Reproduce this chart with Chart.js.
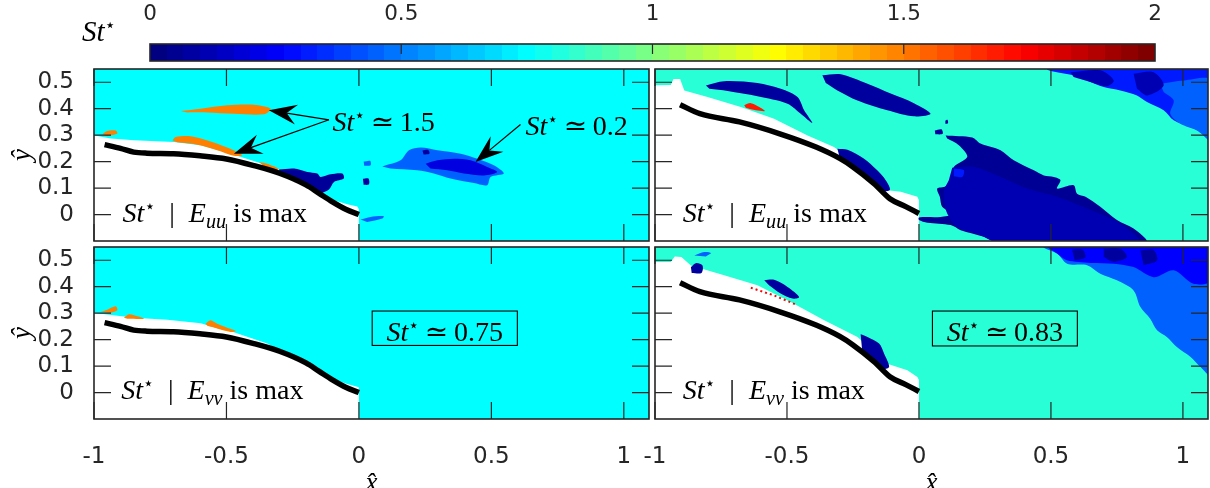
<!DOCTYPE html>
<html><head><meta charset="utf-8">
<script src="https://cdn.jsdelivr.net/npm/chart.js@4.4.1/dist/chart.umd.min.js"></script>
<style>
html,body{margin:0;padding:0;background:#fff}
#wrap{position:relative;width:1210px;height:488px;overflow:hidden;background:#fff}
canvas{position:absolute;left:0;top:0}
</style></head><body>
<div id="wrap">
<canvas id="cb" width="1210" height="488"></canvas>
<canvas id="tl" width="1210" height="488"></canvas>
<canvas id="tr" width="1210" height="488"></canvas>
<canvas id="bl" width="1210" height="488"></canvas>
<canvas id="br" width="1210" height="488"></canvas>
</div>
<script>
// ---------------- data ----------------
const xRange = [-1, 1.095];
const yRange = [-0.1, 0.55];
const xTicks = [-1, -0.5, 0, 0.5, 1];
const yTicks = [0, 0.1, 0.2, 0.3, 0.4, 0.5];
const cbRange = [0, 2];
const cbTicks = [0, 0.5, 1, 1.5, 2];
const cbLevels = 60;

// dominant St* of each panel background
const bgSt = { tl: 0.75, tr: 0.83, bl: 0.75, br: 0.83 };

// airfoil surfaces (x̂, ŷ)
const leftCurve = [[-0.96,0.264],[-0.90,0.250],[-0.85,0.236],[-0.80,0.232],[-0.70,0.230],[-0.60,0.222],[-0.50,0.210],[-0.40,0.186],[-0.30,0.156],[-0.20,0.112],[-0.15,0.080],[-0.10,0.048],[-0.05,0.020],[0,0]];
const rightCurve = [[-0.905,0.415],[-0.83,0.381],[-0.68,0.350],[-0.53,0.306],[-0.39,0.255],[-0.30,0.212],[-0.25,0.180],[-0.17,0.117],[-0.11,0.060],[-0.05,0.030],[0,0.004]];

// no-data (white) regions
const tlWhite = [[-1.05,-0.2],[-1.05,0.300],[-0.997,0.299],[-0.937,0.287],[-0.849,0.281],[-0.698,0.274],[-0.597,0.262],[-0.472,0.226],[-0.308,0.174],[-0.182,0.111],[-0.094,0.054],[-0.044,0.039],[-0.006,0.030],[0,0.02],[0,-0.2]];
const blWhite = [[-1.05,-0.2],[-1.05,0.301],[-0.997,0.301],[-0.849,0.283],[-0.723,0.275],[-0.597,0.262],[-0.535,0.243],[-0.472,0.228],[-0.346,0.185],[-0.220,0.116],[-0.119,0.058],[-0.044,0.032],[0,0.02],[0,-0.2]];
const trWhite = [[-1.05,-0.2],[-1.05,0.488],[-0.94,0.49],[-0.93,0.512],[-0.905,0.512],[-0.889,0.469],[-0.801,0.444],[-0.675,0.406],[-0.549,0.362],[-0.422,0.299],[-0.322,0.255],[-0.233,0.192],[-0.12,0.092],[-0.069,0.086],[-0.006,0.067],[0,0.054],[0,-0.2]];
const brWhite = [[-1.05,-0.2],[-1.05,0.493],[-0.94,0.493],[-0.925,0.514],[-0.90,0.512],[-0.864,0.480],[-0.738,0.443],[-0.612,0.405],[-0.486,0.342],[-0.359,0.273],[-0.233,0.210],[-0.12,0.109],[-0.044,0.084],[-0.006,0.059],[0,0.047],[0,-0.2]];

// top-left regions
const tlBlueOuter = [[0.088,0.182],[0.157,0.205],[0.189,0.243],[0.233,0.253],[0.296,0.243],[0.384,0.230],[0.447,0.211],[0.509,0.186],[0.547,0.155],[0.497,0.142],[0.484,0.111],[0.434,0.119],[0.346,0.136],[0.283,0.155],[0.220,0.167],[0.119,0.174]];
const tlBlueInner = [[0.252,0.192],[0.296,0.205],[0.358,0.211],[0.421,0.205],[0.484,0.180],[0.522,0.161],[0.472,0.148],[0.396,0.155],[0.333,0.167],[0.270,0.174]];
const tlNavyDot1 = [[0.240,0.242],[0.262,0.244],[0.266,0.230],[0.244,0.227]];
const tlNavyDot2 = [[0.015,0.135],[0.036,0.136],[0.038,0.114],[0.018,0.112]];
const tlBlueDot = [[0.018,0.200],[0.042,0.203],[0.044,0.186],[0.020,0.184]];
const tlStreak = [[0.006,-0.019],[0.044,-0.009],[0.094,-0.006],[0.088,-0.015],[0.031,-0.028]];
const tlNavy = [[-0.302,0.170],[-0.245,0.174],[-0.195,0.161],[-0.157,0.155],[-0.145,0.142],[-0.107,0.152],[-0.063,0.155],[-0.057,0.136],[-0.094,0.123],[-0.113,0.095],[-0.15,0.082],[-0.2,0.115],[-0.25,0.142],[-0.30,0.162]];
const tlOrangeUpper = [[-0.673,0.391],[-0.597,0.400],[-0.497,0.413],[-0.396,0.415],[-0.333,0.400],[-0.358,0.379],[-0.472,0.381],[-0.572,0.386],[-0.648,0.386]];
const tlOrangeMid = [[-0.704,0.280],[-0.692,0.293],[-0.635,0.296],[-0.572,0.280],[-0.497,0.253],[-0.440,0.224],[-0.472,0.222],[-0.535,0.243],[-0.610,0.264],[-0.686,0.273]];
const tlOrangeLow = [[-0.377,0.199],[-0.346,0.192],[-0.302,0.172],[-0.321,0.168],[-0.358,0.182]];
const tlOrangeEdge = [[-0.969,0.303],[-0.950,0.316],[-0.918,0.318],[-0.912,0.306],[-0.950,0.296]];

// bottom-left regions
const blOrange1 = [[-0.975,0.304],[-0.950,0.313],[-0.918,0.326],[-0.912,0.311],[-0.937,0.301]];
const blOrange2 = [[-0.887,0.283],[-0.868,0.296],[-0.836,0.288],[-0.811,0.279],[-0.874,0.279]];
const blOrange3 = [[-0.579,0.260],[-0.560,0.273],[-0.535,0.260],[-0.497,0.245],[-0.465,0.233],[-0.484,0.229],[-0.535,0.242],[-0.572,0.252]];

// top-right regions
const trStreakA = [[-0.807,0.488],[-0.738,0.504],[-0.612,0.497],[-0.523,0.475],[-0.460,0.444],[-0.435,0.394],[-0.404,0.346],[-0.448,0.381],[-0.498,0.419],[-0.612,0.447],[-0.725,0.467],[-0.794,0.475]];
const trRed = [[-0.662,0.413],[-0.637,0.421],[-0.605,0.406],[-0.584,0.391],[-0.618,0.394],[-0.656,0.404]];
const trStreakB = [[-0.366,0.526],[-0.296,0.530],[-0.195,0.494],[-0.107,0.457],[-0.019,0.421],[0.044,0.381],[-0.019,0.371],[-0.120,0.394],[-0.233,0.431],[-0.309,0.469],[-0.353,0.497]];
const trStreakC = [[-0.309,0.249],[-0.271,0.245],[-0.208,0.211],[-0.158,0.167],[-0.126,0.130],[-0.110,0.094],[-0.145,0.09],[-0.195,0.14],[-0.259,0.19],[-0.30,0.215]];
const trDot1 = [[0.06,0.318],[0.085,0.322],[0.09,0.305],[0.062,0.303]];
const trDot2 = [[0.1,0.355],[0.108,0.358],[0.11,0.345],[0.1,0.343]];
const trDOuter = [[0.101,0.299],[0.202,0.291],[0.233,0.268],[0.309,0.243],[0.359,0.205],[0.435,0.167],[0.473,0.148],[0.511,0.142],[0.536,0.130],[0.523,0.098],[0.586,0.111],[0.599,0.079],[0.631,0.067],[0.687,0.029],[0.750,-0.021],[0.813,-0.053],[0.858,-0.091],[0.864,-0.11],[0.309,-0.11],[0.246,-0.084],[0.158,-0.059],[0.120,-0.040],[0.032,-0.031],[0.0,-0.021],[0.0,-0.011],[0.082,-0.009],[0.126,0.001],[0.088,0.029],[0.079,0.067],[0.069,0.098],[0.101,0.107],[0.132,0.155],[0.132,0.180],[0.183,0.218],[0.151,0.262],[0.107,0.287]];
const trDInner = [[0.126,0.177],[0.208,0.180],[0.309,0.142],[0.410,0.098],[0.523,0.067],[0.637,0.023],[0.738,-0.021],[0.813,-0.072],[0.839,-0.11],[0.309,-0.11],[0.233,-0.078],[0.145,-0.047],[0.107,0.004],[0.095,0.054],[0.095,0.092],[0.113,0.130]];
const trDSpot = [[0.132,0.174],[0.170,0.167],[0.164,0.142],[0.132,0.145]];
const trNoisy = [[0.486,0.56],[0.486,0.547],[0.523,0.538],[0.586,0.526],[0.637,0.507],[0.70,0.482],[0.763,0.469],[0.826,0.45],[0.864,0.425],[0.927,0.394],[0.965,0.356],[1.028,0.331],[1.066,0.312],[1.11,0.274],[1.11,0.56]];
const trNoisyLight = [[0.914,0.494],[1.003,0.507],[1.11,0.507],[1.11,0.281],[1.053,0.318],[0.990,0.343],[0.952,0.381],[0.965,0.431],[0.927,0.463]];
const trNoisyDark1 = [[0.574,0.538],[0.687,0.545],[0.738,0.507],[0.712,0.485],[0.649,0.501],[0.586,0.52]];
const trNoisyDark2 = [[0.813,0.532],[0.889,0.538],[0.927,0.488],[0.864,0.450],[0.826,0.475]];

// bottom-right regions
const brNoisy = [[0.47,0.56],[0.473,0.547],[0.523,0.525],[0.561,0.487],[0.637,0.481],[0.687,0.449],[0.75,0.424],[0.813,0.386],[0.839,0.323],[0.876,0.279],[0.902,0.235],[0.939,0.21],[0.977,0.172],[1.028,0.135],[1.066,0.097],[1.11,0.06],[1.11,0.56]];
const brBand = [[0.47,0.56],[1.11,0.56],[1.11,0.424],[1.040,0.411],[0.965,0.462],[0.889,0.436],[0.813,0.474],[0.738,0.487],[0.65,0.49],[0.56,0.50],[0.523,0.525]];
const brNavy1 = [[0.700,0.543],[0.763,0.543],[0.788,0.512],[0.738,0.494],[0.700,0.512]];
const brNavy2 = [[0.839,0.537],[0.889,0.539],[0.902,0.499],[0.851,0.481]];
const brNavy3 = [[0.58,0.54],[0.62,0.54],[0.63,0.51],[0.59,0.50]];
const brLightDot = [[-0.851,0.518],[-0.813,0.531],[-0.788,0.527],[-0.807,0.514]];
const brNavyDot = [[-0.864,0.474],[-0.845,0.489],[-0.820,0.480],[-0.824,0.452],[-0.861,0.452]];
const brNavyStreak = [[-0.586,0.424],[-0.549,0.426],[-0.498,0.399],[-0.454,0.361],[-0.479,0.355],[-0.524,0.374],[-0.568,0.405]];
const brNavyCurve = [[-0.221,0.220],[-0.195,0.210],[-0.151,0.185],[-0.132,0.147],[-0.113,0.097],[-0.14,0.088],[-0.18,0.125],[-0.215,0.158]];
const brRedLine = [[-0.637,0.396],[-0.549,0.367],[-0.460,0.330]];

// region lists: [outline, St*]  (bottom to top)
const tlRegions = [[tlBlueOuter,0.44],[tlBlueInner,0.19],[tlNavyDot1,0.06],[tlNavyDot2,0.06],[tlBlueDot,0.44],[tlStreak,0.44],[tlNavy,0.05],[tlOrangeUpper,1.5],[tlOrangeMid,1.5],[tlOrangeLow,1.5],[tlOrangeEdge,1.5]];
const blRegions = [[blOrange1,1.5],[blOrange2,1.5],[blOrange3,1.5]];
const trRegions = [[trNoisy,0.3],[trNoisyLight,0.44],[trNoisyDark1,0.1],[trNoisyDark2,0.1],[trStreakA,0.06],[trRed,1.7],[trStreakB,0.06],[trStreakC,0.06],[trDot1,0.06],[trDot2,0.06],[trDOuter,0.04],[trDInner,0.1],[trDSpot,0.3]];
const brRegions = [[brNoisy,0.44],[brBand,0.25],[brNavy1,0.06],[brNavy2,0.06],[brNavy3,0.06],[brLightDot,0.44],[brNavyDot,0.06],[brNavyStreak,0.06],[brNavyCurve,0.06]];

// annotations
const tlArrows = [[[-0.113,0.358],[-0.340,0.394]],[[-0.113,0.358],[-0.472,0.230]],[[0.610,0.340],[0.440,0.199]]];
const blBox = [0.050, 0.598, 0.178, 0.308];
const brBox = [0.051, 0.600, 0.176, 0.308];

// ---------------- drawing helpers ----------------
const SANS = '"DejaVu Sans", "Liberation Sans", Arial, sans-serif';
const SERIF = '"Liberation Serif", "DejaVu Serif", "DejaVu Sans", serif';
const INK = '#262626';
const MATH = 28;

function jet(st) {
  const t = Math.min(1, Math.max(0, st / 2));
  const c = k => Math.round(255 * Math.min(1, Math.max(0, 1.5 - Math.abs(4 * t - k))));
  return `rgb(${c(3)},${c(2)},${c(1)})`;
}
const fmt = v => (Math.abs(v) < 1e-9 ? '0' : String(+Number(v).toFixed(2)));
const yFmt = v => (v < -0.05 ? '' : fmt(v));

function richText(ctx, x, y, parts, base, align) {
  const seg = parts.map(([t, s]) => {
    let size = base, dy = 0;
    const it = s.includes('i') ? 'italic ' : '';
    if (s.includes('sup')) { size = base * 0.62; dy = -base * 0.36; }
    if (s.includes('sub')) { size = base * 0.72; dy = base * 0.2; }
    const font = `${it}${size}px ${SERIF}`;
    ctx.font = font;
    return { t, font, dy, w: ctx.measureText(t).width };
  });
  const total = seg.reduce((a, s) => a + s.w, 0);
  let cx = align === 'center' ? x - total / 2 : x;
  ctx.textAlign = 'left'; ctx.textBaseline = 'alphabetic'; ctx.fillStyle = '#000';
  seg.forEach(s => { ctx.font = s.font; ctx.fillText(s.t, cx, y + s.dy); cx += s.w; });
}

function drawArrow(ctx, x0, y0, x1, y1) {
  const ang = Math.atan2(y1 - y0, x1 - x0);
  const ux = Math.cos(ang), uy = Math.sin(ang);
  const L = 28, W = 10, N = 18;
  ctx.strokeStyle = '#000'; ctx.fillStyle = '#000'; ctx.lineWidth = 1.2;
  ctx.beginPath(); ctx.moveTo(x0, y0); ctx.lineTo(x1 - ux * N, y1 - uy * N); ctx.stroke();
  const bx = x1 - ux * L, by = y1 - uy * L;
  ctx.beginPath();
  ctx.moveTo(x1, y1);
  ctx.lineTo(bx - uy * W, by + ux * W);
  ctx.lineTo(x1 - ux * N, y1 - uy * N);
  ctx.lineTo(bx + uy * W, by - ux * W);
  ctx.closePath(); ctx.fill();
}

const stEq = v => [['St', 'i'], ['\u22C6', 'sup'], ['\u2009\u2243\u2009', 'r'], [v, 'r']];
const stMax = sub => [['St', 'i'], ['\u22C6', 'sup'], ['\u2002|\u2002', 'r'], ['E', 'i'], [sub, 'isub'], [' is max', 'r']];

function poly(pts, color, tension) {
  return { data: pts.map(([x, y]) => ({ x, y })), showLine: true, fill: 'shape', backgroundColor: color,
           borderColor: color, borderWidth: 0, pointRadius: 0, pointHoverRadius: 0, tension: tension == null ? 0.3 : tension };
}

function makePanel(id, p) {
  const ds = [];
  ds.push(poly(p.white, '#ffffff', 0));
  p.regions.forEach(([pts, st]) => ds.push(poly(pts, jet(st))));
  (p.lines || []).forEach(l => ds.push({ data: l.pts.map(([x, y]) => ({ x, y })), showLine: true, fill: false,
      borderColor: jet(l.st), borderWidth: 2, borderDash: [2, 3], pointRadius: 0 }));
  ds.push({ data: p.curve.map(([x, y]) => ({ x, y })), showLine: true, fill: false, borderColor: '#000',
      borderWidth: 5.5, pointRadius: 0, cubicInterpolationMode: 'monotone' });
  ds.forEach((d, i) => { d.order = -i; });

  const deco = {
    id: 'deco_' + id,
    beforeDraw(chart) {
      const { ctx, chartArea: a } = chart;
      ctx.save(); ctx.fillStyle = jet(p.bg);
      ctx.fillRect(a.left, a.top, a.right - a.left, a.bottom - a.top); ctx.restore();
    },
    afterDatasetsDraw(chart) {
      const { ctx, chartArea: a, scales: { x, y } } = chart;
      const X = v => x.getPixelForValue(v), Y = v => y.getPixelForValue(v);
      ctx.save();
      if (p.box) {
        const [x0, x1, y0, y1] = p.box;
        ctx.strokeStyle = '#000'; ctx.lineWidth = 1.1;
        ctx.strokeRect(X(x0), Y(y1), X(x1) - X(x0), Y(y0) - Y(y1));
      }
      (p.arrows || []).forEach(([f, t]) => drawArrow(ctx, X(f[0]), Y(f[1]), X(t[0]), Y(t[1])));
      (p.texts || []).forEach(t => richText(ctx, X(t.at[0]), Y(t.at[1]), t.parts, t.size || MATH, t.align));
      const TLEN = 17;
      ctx.strokeStyle = INK; ctx.lineWidth = 1.2; ctx.beginPath();
      xTicks.forEach(v => { const px = X(v); ctx.moveTo(px, a.top); ctx.lineTo(px, a.top + TLEN); ctx.moveTo(px, a.bottom); ctx.lineTo(px, a.bottom - TLEN); });
      yTicks.forEach(v => { const py = Y(v); ctx.moveTo(a.left, py); ctx.lineTo(a.left + TLEN, py); ctx.moveTo(a.right, py); ctx.lineTo(a.right - TLEN, py); });
      ctx.stroke();
      ctx.lineWidth = 1.6; ctx.strokeRect(a.left, a.top, a.right - a.left, a.bottom - a.top);
      ctx.restore();
    }
  };

  return new Chart(document.getElementById(id), {
    type: 'scatter',
    data: { datasets: ds },
    options: {
      responsive: false, animation: false, events: [],
      layout: { padding: p.padding },
      plugins: { legend: { display: false }, tooltip: { enabled: false } },
      scales: {
        x: { type: 'linear', min: xRange[0], max: xRange[1], display: p.showX,
             grid: { display: false }, border: { display: false },
             ticks: { stepSize: 0.5, includeBounds: false, padding: 16, color: INK, maxRotation: 0, autoSkip: false,
                      font: { family: SANS, size: 23 }, callback: fmt },
             title: { display: true, text: 'x\u0302', color: '#000', font: { family: SERIF, style: 'italic', size: 27, lineHeight: 1 }, padding: { bottom: -9, top: 0 } },
             afterFit: s => { if (p.showX) s.height = 69; } },
        y: { type: 'linear', min: yRange[0], max: yRange[1], display: p.showY,
             grid: { display: false }, border: { display: false },
             ticks: { stepSize: 0.1, includeBounds: false, padding: 12, color: INK, autoSkip: false,
                      font: { family: SANS, size: 23 }, callback: yFmt },
             title: { display: true, text: '\u0177', color: '#000', font: { family: SERIF, style: 'italic', size: 27, lineHeight: 1 }, padding: { top: 9, bottom: 0 } },
             afterFit: s => { if (p.showY) s.width = 94; } }
      }
    },
    plugins: [deco]
  });
}

// ---------------- panels ----------------
makePanel('tl', { bg: bgSt.tl, white: tlWhite, regions: tlRegions, curve: leftCurve, showX: false, showY: true,
  padding: { left: 0, right: 561, top: 69, bottom: 247 }, arrows: tlArrows,
  texts: [ { at: [-0.892, -0.028], parts: stMax('uu') }, { at: [-0.100, 0.314], parts: stEq('1.5') }, { at: [0.629, 0.299], parts: stEq('0.2') } ] });
makePanel('tr', { bg: bgSt.tr, white: trWhite, regions: trRegions, curve: rightCurve, showX: false, showY: false,
  padding: { left: 655, right: 2, top: 69, bottom: 247 },
  texts: [ { at: [-0.895, -0.028], parts: stMax('uu') } ] });
makePanel('bl', { bg: bgSt.bl, white: blWhite, regions: blRegions, curve: leftCurve, showX: true, showY: true,
  padding: { left: 0, right: 561, top: 247, bottom: 0 }, box: blBox,
  texts: [ { at: [-0.897, -0.026], parts: stMax('vv') }, { at: [(blBox[0] + blBox[1]) / 2, 0.195], parts: stEq('0.75'), align: 'center' } ] });
makePanel('br', { bg: bgSt.br, white: brWhite, regions: brRegions, curve: rightCurve, showX: true, showY: false,
  lines: [ { pts: brRedLine, st: 1.75 } ],
  padding: { left: 655, right: 2, top: 247, bottom: 0 }, box: brBox,
  texts: [ { at: [-0.895, -0.026], parts: stMax('vv') }, { at: [(brBox[0] + brBox[1]) / 2, 0.195], parts: stEq('0.83'), align: 'center' } ] });

// ---------------- colorbar ----------------
function cbGradient(chart) {
  const x = chart.scales && chart.scales.x;
  if (!chart.chartArea || !x) return jet(1);
  const x0 = x.getPixelForValue(cbRange[0]), x1 = x.getPixelForValue(cbRange[1]);
  const g = chart.ctx.createLinearGradient(x0, 0, x1, 0);
  for (let i = 0; i < cbLevels; i++) {
    const col = jet(cbRange[1] * i / (cbLevels - 1));
    g.addColorStop(i / cbLevels, col);
    g.addColorStop((i + 1) / cbLevels - 1e-6, col);
  }
  return g;
}
const cbDeco = {
  id: 'cbDeco',
  afterDatasetsDraw(chart) {
    const { ctx, chartArea: a, scales: { x } } = chart;
    ctx.save();
    ctx.strokeStyle = INK; ctx.lineWidth = 1.2; ctx.beginPath();
    cbTicks.slice(1, -1).forEach(v => { const px = x.getPixelForValue(v); ctx.moveTo(px, a.top); ctx.lineTo(px, a.top + 10); });
    ctx.stroke();
    ctx.lineWidth = 1.6; ctx.strokeRect(a.left, a.top, a.right - a.left, a.bottom - a.top);
    richText(ctx, a.left - 68, a.bottom - 20, [['St', 'i'], ['\u22C6', 'sup']], 29);
    ctx.restore();
  }
};
new Chart(document.getElementById('cb'), {
  type: 'bar',
  data: { labels: [''], datasets: [{ data: [cbRange], backgroundColor: c => cbGradient(c.chart), borderWidth: 0, barPercentage: 1, categoryPercentage: 1 }] },
  options: {
    indexAxis: 'y', responsive: false, animation: false, events: [],
    layout: { padding: { left: 150, right: 55, top: 0, bottom: 427 } },
    plugins: { legend: { display: false }, tooltip: { enabled: false } },
    scales: {
      x: { type: 'linear', position: 'top', min: cbRange[0], max: cbRange[1], grid: { display: false }, border: { display: false },
           ticks: { stepSize: 0.5, padding: 9, color: INK, maxRotation: 0, font: { family: SANS, size: 21.5 }, callback: v => String(+Number(v).toFixed(2)) },
           afterFit: s => { s.height = 44; } },
      y: { display: false }
    }
  },
  plugins: [cbDeco]
});
</script>
</body></html>
